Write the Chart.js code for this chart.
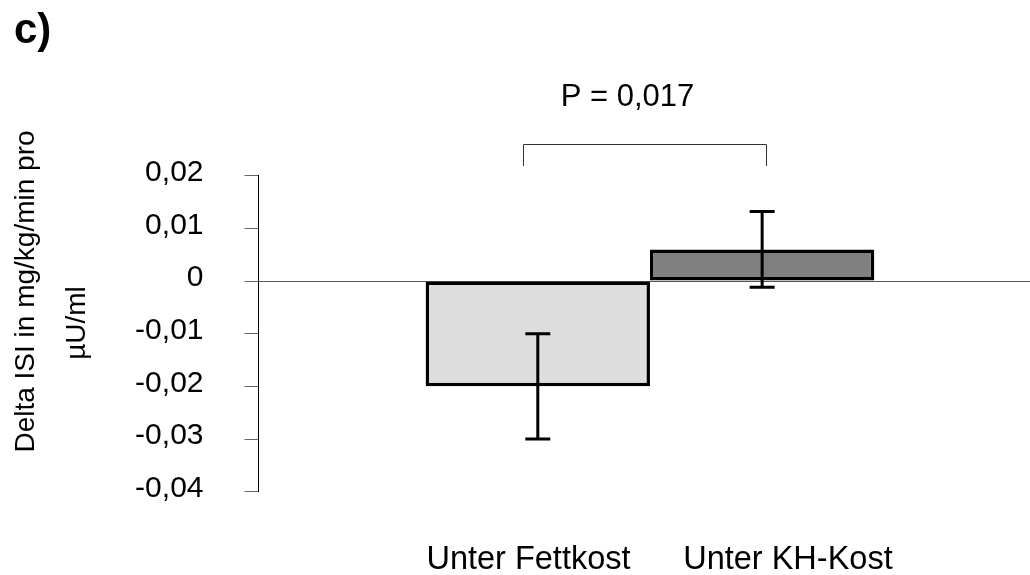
<!DOCTYPE html>
<html>
<head>
<meta charset="utf-8">
<script src="https://cdn.jsdelivr.net/npm/chart.js@4.4.1/dist/chart.umd.min.js"></script>
<style>
  html, body { margin: 0; padding: 0; background: #ffffff; }
  #wrap { width: 1030px; height: 575px; }
</style>
</head>
<body>
<div id="wrap"><canvas id="chart" width="1030" height="575"></canvas></div>
<script>
// Mean change in insulin sensitivity index per diet, with standard error
const categories = ['Unter Fettkost', 'Unter KH-Kost'];
const meanDelta = [-0.020, 0.006];
const errDelta = [0.010, 0.0072];
const barColors = ['#dddddd', '#808080'];
const yTicks = [-0.04, -0.03, -0.02, -0.01, 0, 0.01, 0.02];

// Where each category label sits along the x axis (category units)
const labelPos = [0.9585, 2.115];

// Texts
const panelLabel = 'c)';
const yTitle = ['Delta ISI in mg/kg/min pro', 'µU/ml'];
const pLabel = 'P = 0,017';

// Significance bracket, in axis units (x = category position, y = value)
const bracketX = [0.934, 2.017];
const bracketY = [0.0260, 0.0218];
const pLabelPos = [1.40, 0.0332];

const FONT = '"Liberation Sans", Arial, Helvetica, sans-serif';

const fmtTick = v => (v === 0 ? '0' : v.toFixed(2).replace('.', ','));

// Error bars with caps, drawn over the bars
const errorBars = {
  id: 'errorBars',
  afterDatasetsDraw(chart) {
    const { ctx, scales: { x, y } } = chart;
    ctx.save();
    ctx.strokeStyle = '#000000';
    ctx.lineWidth = 3;
    ctx.lineCap = 'butt';
    meanDelta.forEach((m, i) => {
      const px = x.getPixelForValue(i + 1);
      const top = y.getPixelForValue(m + errDelta[i]);
      const bot = y.getPixelForValue(m - errDelta[i]);
      const cap = 12.5;
      ctx.beginPath();
      ctx.moveTo(px, top); ctx.lineTo(px, bot);
      ctx.moveTo(px - cap, top); ctx.lineTo(px + cap, top);
      ctx.moveTo(px - cap, bot); ctx.lineTo(px + cap, bot);
      ctx.stroke();
    });
    ctx.restore();
  }
};

// Panel letter, axis title, bracket and p-value
const annotations = {
  id: 'annotations',
  afterDraw(chart) {
    const { ctx, scales: { x, y } } = chart;
    ctx.save();
    ctx.fillStyle = '#000000';

    ctx.font = 'bold 42px ' + FONT;
    ctx.textAlign = 'left';
    ctx.textBaseline = 'alphabetic';
    ctx.fillText(panelLabel, 14, 43);

    ctx.font = '28px ' + FONT;
    ctx.textAlign = 'center';
    const titlePos = [[33.5, 291.5], [84.5, 323]];
    yTitle.forEach((t, i) => {
      ctx.save();
      ctx.translate(titlePos[i][0], titlePos[i][1]);
      ctx.rotate(-Math.PI / 2);
      ctx.fillText(t, 0, 0);
      ctx.restore();
    });

    const bx0 = Math.round(x.getPixelForValue(bracketX[0])) + 0.5;
    const bx1 = Math.round(x.getPixelForValue(bracketX[1])) + 0.5;
    const byTop = Math.round(y.getPixelForValue(bracketY[0])) + 0.5;
    const byBot = Math.round(y.getPixelForValue(bracketY[1]));
    ctx.strokeStyle = '#333333';
    ctx.lineWidth = 1;
    ctx.beginPath();
    ctx.moveTo(bx0, byBot); ctx.lineTo(bx0, byTop);
    ctx.lineTo(bx1, byTop); ctx.lineTo(bx1, byBot);
    ctx.stroke();

    ctx.font = '31px ' + FONT;
    ctx.textAlign = 'center';
    ctx.fillText(pLabel, x.getPixelForValue(pLabelPos[0]), y.getPixelForValue(pLabelPos[1]));
    ctx.restore();
  }
};

new Chart(document.getElementById('chart'), {
  type: 'bar',
  data: {
    datasets: [{
      data: categories.map((c, i) => ({ x: i + 1, y: meanDelta[i] })),
      backgroundColor: barColors,
      borderColor: '#000000',
      borderWidth: 3.5,
      borderSkipped: false,
      inflateAmount: 0,
      barPercentage: 1.0,
      categoryPercentage: 1.0
    }]
  },
  options: {
    responsive: false,
    animation: false,
    layout: { padding: { top: 175.7, left: 0, right: 0, bottom: 0 } },
    plugins: { legend: { display: false }, tooltip: { enabled: false } },
    scales: {
      x: {
        type: 'linear',
        min: -0.245,
        max: 3.194,
        offset: false,
        grid: { display: false, drawTicks: false, offset: false },
        border: { display: false },
        afterBuildTicks: s => { s.ticks = labelPos.map(v => ({ value: v })); },
        afterFit: s => { s.height = 83.3; },
        ticks: {
          autoSkip: false,
          maxRotation: 0,
          minRotation: 0,
          padding: 49,
          color: '#000000',
          font: { family: FONT, size: 32.5 },
          callback: (v, i) => categories[i]
        }
      },
      y: {
        min: -0.04,
        max: 0.02,
        afterBuildTicks: s => { s.ticks = yTicks.map(v => ({ value: v })); },
        afterFit: s => { s.width = 258.5; },
        border: { display: true, color: '#000000', width: 1 },
        grid: {
          drawTicks: true,
          tickLength: 14,
          tickColor: '#666666',
          lineWidth: 1,
          color: c => (c.tick && c.tick.value === 0 ? '#555555' : 'rgba(0,0,0,0)')
        },
        ticks: {
          padding: 41,
          labelOffset: -3,
          color: '#000000',
          font: { family: FONT, size: 30 },
          callback: v => fmtTick(v)
        }
      }
    }
  },
  plugins: [errorBars, annotations]
});
</script>
</body>
</html>
